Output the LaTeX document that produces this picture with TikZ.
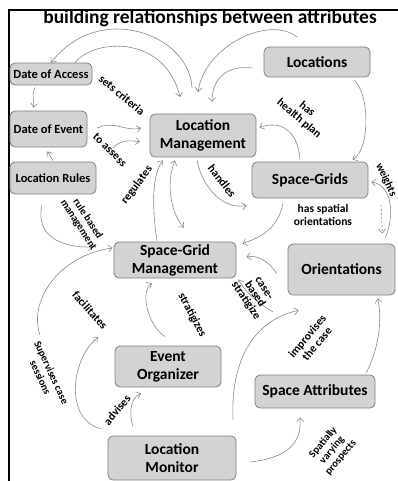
\documentclass[tikz,border=0pt]{standalone}
\usepackage{fontspec}
\setmainfont{Carlito}
\usetikzlibrary{arrows.meta}
\definecolor{boxfill}{HTML}{D3D3D3}
\definecolor{boxline}{HTML}{808080}
\definecolor{connc}{HTML}{888888}
\tikzset{
 box/.style={draw=boxline, fill=boxfill, rounded corners=5pt, line width=0.8pt, font=\bfseries\fontsize{15.5}{18}\selectfont, align=center, inner sep=0pt},
 sbox/.style={box, font=\bfseries\fontsize{12.5}{14}\selectfont},
 conn/.style={draw=connc, line width=0.6pt, -{Straight Barb[length=4pt,width=7pt]}},
 dconn/.style={conn, {Straight Barb[length=4pt,width=7pt]}-{Straight Barb[length=4pt,width=7pt]}},
 lab/.style={font=\bfseries\fontsize{11.5}{12.5}\selectfont, align=center, inner sep=0pt},
}
\begin{document}
\begin{tikzpicture}[x=1pt,y=-1pt]
\useasboundingbox (0,0) rectangle (398,481);
\draw[line width=1.6pt] (9,481) -- (9,10) -- (398,10);
\node[font=\bfseries\fontsize{19.5}{22}\selectfont, anchor=base, inner sep=0pt] (title) at (210,24) {building relationships between attributes};

% boxes
\node[sbox, minimum width=82pt, minimum height=22pt] (DA) at (51,74) {Date of Access};
\node[sbox, minimum width=77pt, minimum height=36pt] (DE) at (48.5,129) {Date of Event};
\node[sbox, minimum width=86pt, minimum height=32pt] (LR) at (53,178) {Location Rules};
\node[box, minimum width=106pt, minimum height=43pt] (LM) at (203,135.5) {Location\\Management};
\node[box, minimum width=106pt, minimum height=30pt] (LO) at (317,62) {Locations};
\node[box, minimum width=116pt, minimum height=36pt] (SG) at (310,180) {Space-Grids};
\node[box, minimum width=122pt, minimum height=36pt] (SGM) at (175,260) {Space-Grid\\Management};
\node[box, minimum width=107pt, minimum height=51pt] (OR) at (341.5,269.5) {Orientations};
\node[box, minimum width=106pt, minimum height=41pt] (EO) at (168,366.5) {Event\\Organizer};
\node[box, minimum width=120pt, minimum height=33pt] (SA) at (315,391.5) {Space Attributes};
\node[box, minimum width=128pt, minimum height=44pt] (LMO) at (172,458) {Location\\Monitor};

% free connector ends
\coordinate (c1) at (192,88);
\coordinate (c2) at (180,97);
\coordinate (c3) at (297,37);
\coordinate (c4) at (198,92);
\coordinate (c5) at (252,68);
\coordinate (c6) at (212,102);
\coordinate (c7) at (97,128);
\coordinate (c8) at (141,128);
\coordinate (c9) at (113,148);
\coordinate (c10) at (140,142);
\coordinate (c11) at (42,205);
\coordinate (c12) at (93,247);
\coordinate (c13) at (40,335);
\coordinate (c14) at (273,312);
\coordinate (c15) at (98,337);
\coordinate (c16) at (381,205);

% connectors
\draw[conn] (c1) .. controls (190,35) and (100,0) .. (DA.north);
\draw[conn] ([xshift=24pt]DA.north) .. controls (95,38) and (165,35) .. (c2);
\draw[conn] (c3) .. controls (270,15) and (205,45) .. (c4);
\draw[conn] (c5) .. controls (225,65) and (212,80) .. (c6);
\draw[conn] ([xshift=-16pt,yshift=-2pt]DA.south) .. controls +(-4,6) and +(1,-7) .. ([xshift=-15pt,yshift=3pt]DE.north);
\draw[conn] ([yshift=1pt]LR.north) -- ([xshift=-1pt,yshift=-4pt]DE.south);
\draw[conn] (c7) .. controls (115,120) and (125,132) .. (c8);
\draw[conn] (c9) .. controls (120,140) and (130,140) .. (c10);
\draw[conn] ([xshift=-18pt,yshift=1pt]SGM.north) .. controls (150,195) and (155,170) .. ([xshift=-40pt,yshift=-3pt]LM.south);
\draw[dconn] ([xshift=-28pt,yshift=-3pt]LM.south) .. controls (165,185) and (172,215) .. ([xshift=9pt,yshift=14pt]SGM.north);
\draw[conn] ([xshift=-6pt,yshift=-3pt]LM.south) .. controls (203,190) and (225,210) .. ([xshift=-5pt,yshift=-7pt]SG.south west);
\draw[conn] ([xshift=-10pt,yshift=2pt]SG.north) .. controls (298,130) and (280,120) .. ([xshift=3pt,yshift=8pt]LM.east);
\draw[conn] ([xshift=-16pt,yshift=-3pt]LO.south east) .. controls (370,95) and (370,150) .. ([xshift=-16pt,yshift=2pt]SG.north east);
\draw[conn] ([xshift=-10pt,yshift=6pt]OR.north east) .. controls (395,215) and (392,185) .. ([xshift=3pt,yshift=-2pt]SG.east);
\draw[conn, dash pattern=on 2pt off 2pt] (c16) -- ([xshift=-13pt,yshift=10pt]OR.north east);
\draw[conn] ([xshift=-27pt,yshift=-5pt]SG.south) .. controls (278,228) and (262,237) .. ([xshift=6pt,yshift=-2pt]SGM.north east);
\draw[conn] ([xshift=-11pt,yshift=-4pt]OR.west) .. controls (268,260) and (257,255) .. ([xshift=10pt,yshift=3pt]SGM.east);
\draw[conn] (c14) .. controls (258,303) and (245,292) .. ([xshift=2pt,yshift=-1pt]SGM.south east);
\draw[conn] ([xshift=-3pt,yshift=9pt]EO.north) .. controls (147,325) and (140,290) .. ([xshift=-23pt,yshift=-5pt]SGM.south);
\draw[conn] ([xshift=61pt,yshift=16pt]LMO.north) .. controls (230,350) and (262,318) .. ([xshift=11pt,yshift=-15pt]OR.south west);
\draw[conn] ([xshift=-9pt,yshift=2pt]SA.north east) .. controls (378,350) and (383,320) .. ([xshift=36pt,yshift=-3pt]OR.south);
\draw[conn] ([xshift=14pt,yshift=-4pt]LMO.east) .. controls (285,458) and (302,445) .. ([xshift=-15pt,yshift=-9pt]SA.south);
\draw[conn] ([xshift=-39pt,yshift=9pt]LMO.north) .. controls (128,410) and (132,397) .. ([xshift=-27pt,yshift=-6pt]EO.south);
\draw[conn] ([xshift=-7pt,yshift=7pt]LMO.north west) .. controls (65,420) and (70,360) .. (c15);
\draw[conn] (c13) .. controls (28,300) and (60,255) .. ([xshift=-1pt,yshift=12pt]SGM.west);
\draw[conn] (c11) .. controls (35,235) and (60,248) .. (c12);

% labels
\node[lab, rotate=-40] (l1) at (122,95) {sets criteria};
\node[lab, rotate=-45] (l2) at (110,150) {to assess};
\node[lab, rotate=53] (l3) at (137,185) {regulates};
\node[lab, rotate=-52] (l4) at (222,181) {handles};
\node[lab, rotate=-40] (l5) at (303,114) {has\\health plan};
\node[lab, rotate=-65, font=\bfseries\fontsize{11}{12}\selectfont] (l6) at (386,180) {weights};
\node[lab] (l7) at (323,215) {has spatial\\orientations};
\node[lab, rotate=-56, font=\bfseries\fontsize{11.5}{11}\selectfont] (l8) at (254,295) {case-\\based\\stratigize};
\node[lab, rotate=-62] (l9) at (192,315) {stratigizes};
\node[lab, rotate=-48] (l10) at (90,310) {facilitates};
\node[lab, rotate=-65, font=\bfseries\fontsize{10.5}{12}\selectfont] (l11) at (46,375) {Supervises case\\sessions};
\node[lab, rotate=-57, font=\bfseries\fontsize{10.5}{11}\selectfont] (l12) at (83,222) {rule based\\management};
\node[lab, rotate=50] (l13) at (117,410) {advises};
\node[lab, rotate=50] (l14) at (312,340) {improvises\\the case};
\node[lab, rotate=50, font=\bfseries\fontsize{10.5}{11.5}\selectfont] (l15) at (332,450) {Spatially\\varying\\prospects};
\end{tikzpicture}
\end{document}
